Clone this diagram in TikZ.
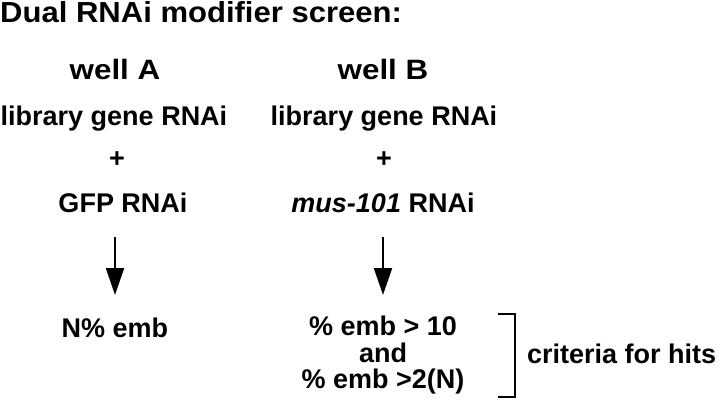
\documentclass[tikz,border=0pt]{standalone}
\usepackage{fontspec}
\setmainfont{Liberation Sans}
\usetikzlibrary{arrows.meta}
\begin{document}
\begin{tikzpicture}[x=1pt,y=-1pt,
  txt/.style={inner sep=0pt,anchor=base,font=\fontsize{27}{29}\selectfont\bfseries},
  well/.style={inner sep=0pt,anchor=base,xscale=1.12,font=\fontsize{28}{30}\selectfont\bfseries},
  ttl/.style={inner sep=0pt,anchor=base west,xscale=1.07,font=\fontsize{29}{31}\selectfont\bfseries},
  arr/.style={line width=2pt,-{Triangle[width=18pt,length=27pt]}},
  brk/.style={line width=2pt}]
\useasboundingbox (0,0) rectangle (720,406);
\node[ttl] (title) at (0,23) {Dual RNAi modifier screen:};
\node[well] (wellA) at (115,80) {well A};
\node[well] (wellB) at (383,80) {well B};
\node[txt] (libA) at (114,126) {library gene RNAi};
\node[txt] (libB) at (384,126) {library gene RNAi};
\node[txt] (plusA) at (117,168) {+};
\node[txt] (plusB) at (384,168) {+};
\node[txt] (gfp) at (123,213) {GFP RNAi};
\node[txt] (mus) at (383,213) {\textit{mus-101} RNAi};
\node[txt] (nA) at (115,337) {N\% emb};
\node[txt] (c1) at (383,335) {\% emb > 10};
\node[txt] (c2) at (383,362) {and};
\node[txt] (c3) at (383,388) {\% emb >2(N)};
\node[txt,anchor=base west] (crit) at (527,363) {criteria for hits};
\coordinate (bt) at (498,314);
\coordinate (bb) at (498,397);
\coordinate (at) at (115,237);
\coordinate (ab) at (115,295);
\coordinate (bt2) at (383,237);
\coordinate (bb2) at (383,295);
\draw[arr] (at) -- (ab);
\draw[arr] (bt2) -- (bb2);
\draw[brk] (bt) -- ++(17,0) |- (bb);
\end{tikzpicture}
\end{document}
